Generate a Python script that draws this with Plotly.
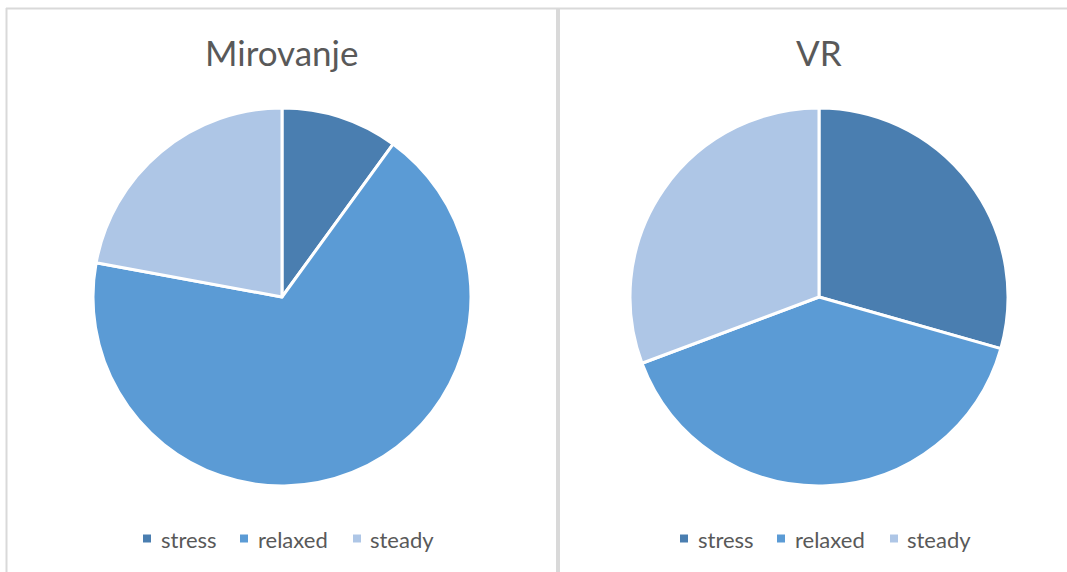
import plotly.graph_objects as go

labels = ["stress", "relaxed", "steady"]
mirovanje_values = [10.0, 67.9, 22.1]
vr_values = [29.4, 39.9, 30.7]
titles = ["Mirovanje", "VR"]
colors = ["#4a7eb0", "#5b9bd5", "#aec6e6"]

W, H = 1067, 572
FONT = "Lato, Carlito, Calibri, sans-serif"
GRAY = "#595959"

fig = go.Figure()

def px_x(x):
    return x / W

def px_y(y):
    return 1 - y / H

centers = [282, 819]
R = 189
cy = 297
# legend item offsets (px) relative to pie centre: square left edge, text left edge
leg_sq = [-139, -42, 71]
leg_tx = [-123, -26, 86]
for i, vals in enumerate([mirovanje_values, vr_values]):
    cx = centers[i]
    fig.add_trace(go.Pie(
        labels=labels, values=vals, sort=False, direction="clockwise", rotation=0,
        marker=dict(colors=colors, line=dict(color="white", width=3)),
        textinfo="none", hoverinfo="label+value",
        domain=dict(x=[px_x(cx - R), px_x(cx + R)], y=[px_y(cy + R), px_y(cy - R)]),
        showlegend=False,
    ))
    fig.add_annotation(text=titles[i], x=px_x(cx), y=px_y(52), xref="paper", yref="paper",
                       showarrow=False, xanchor="center", yanchor="middle",
                       font=dict(family=FONT, size=35, color=GRAY))
    for j, lab in enumerate(labels):
        sx = cx + leg_sq[j]
        fig.add_shape(type="rect", xref="paper", yref="paper",
                      x0=px_x(sx), x1=px_x(sx + 8), y0=px_y(542.5), y1=px_y(534.5),
                      fillcolor=colors[j], line=dict(width=0))
        fig.add_annotation(text=lab, x=px_x(cx + leg_tx[j]), y=px_y(539), xref="paper", yref="paper",
                           showarrow=False, xanchor="left", yanchor="middle",
                           font=dict(family=FONT, size=22, color=GRAY))

# panel borders
line_col = "#d9d9d9"
fig.add_shape(type="line", xref="paper", yref="paper", x0=px_x(6), x1=1, y0=px_y(8.5), y1=px_y(8.5),
              line=dict(color=line_col, width=2))
fig.add_shape(type="line", xref="paper", yref="paper", x0=px_x(6.5), x1=px_x(6.5), y0=px_y(8), y1=0,
              line=dict(color=line_col, width=2))
fig.add_shape(type="line", xref="paper", yref="paper", x0=px_x(558), x1=px_x(558), y0=px_y(8), y1=0,
              line=dict(color=line_col, width=4))

fig.update_layout(width=W, height=H, margin=dict(l=0, r=0, t=0, b=0),
                  paper_bgcolor="white", plot_bgcolor="white")
fig.write_html("out.html", config={"displayModeBar": False})

with open("out.html", "r", encoding="utf-8") as f:
    html = f.read()
html = html.replace("<body>", "<body style=\"margin:0;overflow:hidden\">", 1)
with open("out.html", "w", encoding="utf-8") as f:
    f.write(html)
